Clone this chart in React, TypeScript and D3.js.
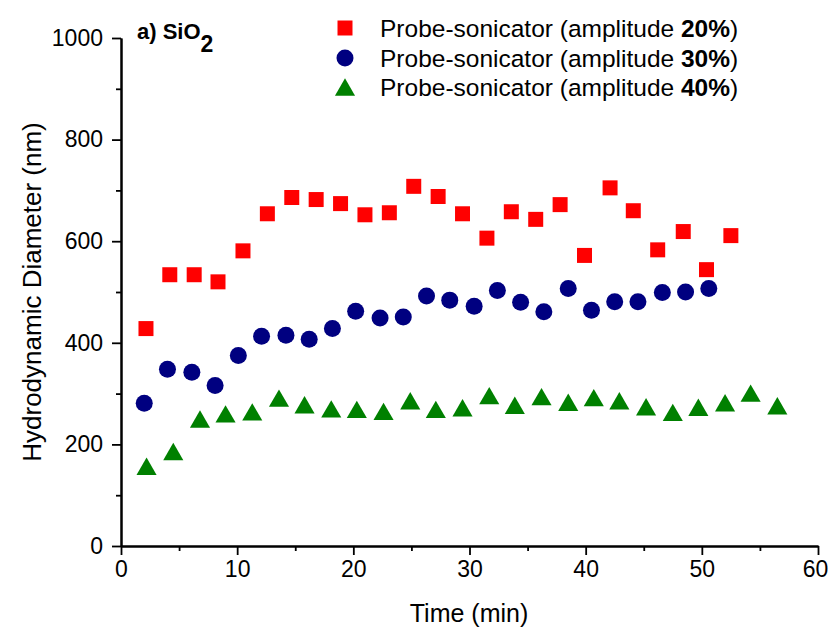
import React, { useEffect, useRef } from 'react';
import * as d3 from 'd3';

const time20 = [2.15, 4.2, 6.3, 8.35, 10.5, 12.6, 14.7, 16.8, 18.9, 21.0, 23.1, 25.2, 27.3, 29.4, 31.5, 33.6, 35.7, 37.8, 39.9, 42.1, 44.1, 46.2, 48.4, 50.4, 52.5];
const size20 = [428, 534, 534, 520, 581, 654, 686, 682, 674, 652, 656, 708, 688, 654, 606, 658, 643, 672, 572, 705, 660, 583, 619, 544, 611];

const time30 = [2.0, 4.0, 6.1, 8.1, 10.1, 12.1, 14.2, 16.2, 18.2, 20.2, 22.3, 24.3, 26.3, 28.3, 30.4, 32.4, 34.4, 36.4, 38.5, 40.5, 42.5, 44.5, 46.6, 48.6, 50.6];
const size30 = [281, 348, 342, 316, 375, 413, 415, 407, 428, 462, 449, 451, 492, 484, 472, 503, 480, 461, 507, 464, 481, 481, 499, 500, 507];

const time40 = [2.2, 4.5, 6.8, 9.0, 11.3, 13.6, 15.8, 18.1, 20.3, 22.6, 24.9, 27.1, 29.4, 31.7, 33.9, 36.2, 38.5, 40.7, 42.9, 45.2, 47.5, 49.7, 52.0, 54.2, 56.5];
const size40 = [157, 186, 250, 260, 264, 291, 278, 270, 269, 265, 286, 269, 272, 296, 277, 294, 283, 292, 286, 274, 263, 273, 282, 301, 276];

const xTicks = [0, 10, 20, 30, 40, 50, 60];
const yTicks = [0, 200, 400, 600, 800, 1000];
const legendLabels = ['20%', '30%', '40%'];

const W = 829;
const H = 631;
const FONT = '"Liberation Sans", Arial, sans-serif';

export default function App() {
  const ref = useRef<SVGSVGElement>(null);

  useEffect(() => {
    const svg = d3.select(ref.current);
    svg.selectAll('*').remove();

    const x = d3.scaleLinear().domain([0, 60]).range([121, 818]);
    const y = d3.scaleLinear().domain([0, 1000]).range([546, 38]);

    const g = svg.append('g');

    // axes, major + minor ticks pointing outwards
    const xAxis = d3.axisBottom(x).tickValues(xTicks).tickSize(9).tickSizeOuter(0).tickPadding(6).tickFormat(d3.format('d'));
    const xMinor = d3.axisBottom(x).tickValues(d3.range(5, 60, 10)).tickSize(5).tickSizeOuter(0).tickFormat(() => '');
    const yAxis = d3.axisLeft(y).tickValues(yTicks).tickSize(9).tickSizeOuter(0).tickPadding(9).tickFormat(d3.format('d'));
    const yMinor = d3.axisLeft(y).tickValues(d3.range(100, 1000, 200)).tickSize(5).tickSizeOuter(0).tickFormat(() => '');

    const style = (sel: any) => {
      sel.selectAll('path').attr('stroke', '#000').attr('stroke-width', 2);
      sel.selectAll('line').attr('stroke', '#000').attr('stroke-width', 1.8);
      sel.selectAll('text').attr('font-family', FONT).attr('font-size', 23).attr('fill', '#000');
    };

    g.append('g').attr('transform', 'translate(0,546)').call(xMinor).call(style);
    const xg = g.append('g').attr('transform', 'translate(0,546)').call(xAxis).call(style);
    xg.selectAll('.tick text').filter((d: any) => d === 60).attr('dx', -3);
    g.append('g').attr('transform', 'translate(121,0)').call(yMinor).call(style);
    g.append('g').attr('transform', 'translate(121,0)').call(yAxis).call(style);

    g.append('text').attr('x', 469).attr('y', 622).attr('text-anchor', 'middle')
      .attr('font-family', FONT).attr('font-size', 25).text('Time (min)');
    g.append('text').attr('transform', 'translate(41,292) rotate(-90)').attr('text-anchor', 'middle')
      .attr('font-family', FONT).attr('font-size', 26).text('Hydrodynamic Diameter (nm)');

    // panel title
    const t = g.append('text').attr('x', 137).attr('y', 39).attr('font-family', FONT)
      .attr('font-size', 22).attr('font-weight', 'bold');
    t.append('tspan').text('a) SiO');
    t.append('tspan').attr('dy', 13).attr('font-size', 23).text('2');

    const square = d3.symbol().type(d3.symbolSquare).size(225);
    const circle = d3.symbol().type(d3.symbolCircle).size(227);
    const triangle = d3.symbol().type(d3.symbolTriangle).size(175);

    const series = [
      { t: time20, v: size20, sym: square, color: '#ff0000', dy: 0 },
      { t: time30, v: size30, sym: circle, color: '#000080', dy: 0 },
      { t: time40, v: size40, sym: triangle, color: '#008000', dy: 2.9 },
    ];

    series.forEach(s => {
      g.append('g').selectAll('path')
        .data(s.t.map((tt, i) => [tt, s.v[i]]))
        .join('path')
        .attr('d', s.sym())
        .attr('fill', s.color)
        .attr('transform', d => `translate(${x(d[0])},${y(d[1]) + s.dy})`);
    });

    // legend
    const rows = [28, 58, 87];
    series.forEach((s, i) => {
      g.append('path').attr('d', s.sym()).attr('fill', s.color)
        .attr('transform', `translate(345,${rows[i] + s.dy})`);
      const lt = g.append('text').attr('x', 380).attr('y', rows[i] + 9)
        .attr('font-family', FONT).attr('font-size', 24.5);
      lt.append('tspan').text('Probe-sonicator (amplitude ');
      lt.append('tspan').attr('font-weight', 'bold').text(legendLabels[i]);
      lt.append('tspan').text(')');
    });
  }, []);

  return (
    <svg ref={ref} width={W} height={H} style={{ display: 'block', position: 'absolute', left: 0, top: 0, background: '#fff' }} />
  );
}
